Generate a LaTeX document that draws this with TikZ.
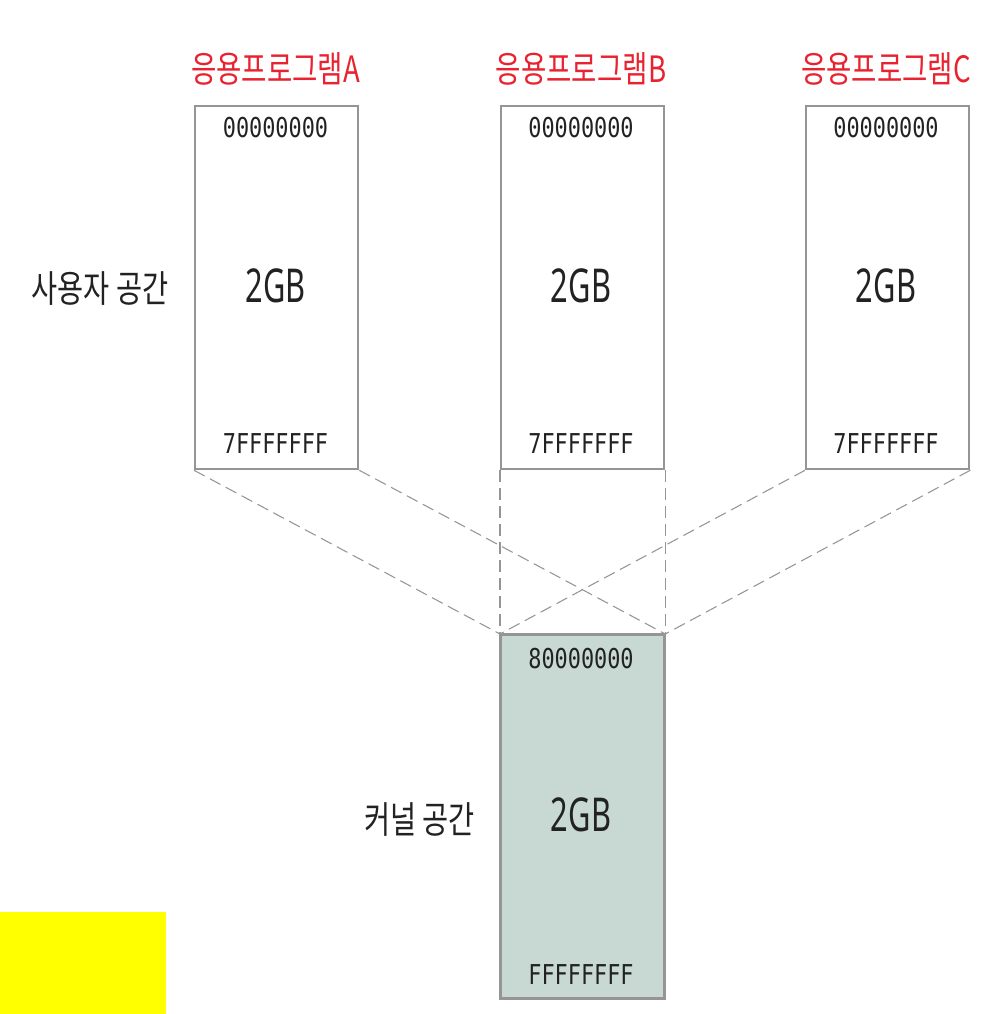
\documentclass[tikz,border=0pt]{standalone}
\usepackage{fontspec}
\newfontfamily\krfont[FakeStretch=0.76]{Noto Sans CJK KR}
\newfontfamily\sizefont[FakeStretch=0.66]{Noto Sans}
\newfontfamily\hexfont[FakeStretch=0.8]{DejaVu Sans Mono}
\definecolor{boxgray}{HTML}{959595}
\definecolor{kfill}{HTML}{C8D8D3}
\definecolor{lblred}{HTML}{E8222E}
\definecolor{txt}{HTML}{222222}
\definecolor{hiyellow}{RGB}{255,255,0}
\begin{document}
\begin{tikzpicture}[x=0.75pt,y=-0.75pt,
  mem/.style={draw=boxgray,line width=1.7pt,minimum width=163*0.75pt,minimum height=363*0.75pt,inner sep=0pt,anchor=north west},
  redlbl/.style={text=lblred,font=\krfont\fontsize{27.2}{29}\selectfont,inner sep=0pt},
  sidelbl/.style={text=txt,font=\krfont\fontsize{28}{30}\selectfont,inner sep=0pt},
  sizelbl/.style={text=txt,font=\sizefont\fontsize{35}{37}\selectfont,inner sep=0pt},
  hexlbl/.style={text=txt,font=\hexfont\fontsize{20.5}{22}\selectfont,inner sep=0pt},
  link/.style={draw=boxgray,line width=0.8pt,dash pattern=on 9pt off 4.5pt}]
\useasboundingbox (0,0) rectangle (1000,1014);
\fill[hiyellow] (0,912) rectangle (166,1014);
% boxes
\node[mem] (A) at (194,105) {};
\node[mem] (B) at (500,105) {};
\node[mem] (C) at (805,105) {};
\node[mem,fill=kfill] (K) at (500,634) {};
% connectors
\draw[link] (A.south west) -- (K.north west);
\draw[link] (A.south east) -- (K.north east);
\draw[link] (B.south west) -- (K.north west);
\draw[link] (B.south east) -- (K.north east);
\draw[link] (C.south west) -- (K.north west);
\draw[link] (C.south east) -- (K.north east);
% redraw kernel border over dashes
\draw[draw=boxgray,line width=1.7pt] (K.north west) rectangle (K.south east);
% labels
\node[redlbl] (la) at (275.5,69) {응용프로그램A};
\node[redlbl] (lb) at (581,69) {응용프로그램B};
\node[redlbl] (lc) at (886,69) {응용프로그램C};
\foreach \b/\x in {A/275.5,B/581,C/886}{
  \node[hexlbl] (\b top) at (\x,128) {00000000};
  \node[sizelbl] (\b size) at (\x,286) {2GB};
  \node[hexlbl] (\b bot) at (\x,444) {7FFFFFFF};
}
\node[hexlbl] (Ktop) at (581,659) {80000000};
\node[sizelbl] (Ksize) at (581,815) {2GB};
\node[hexlbl] (Kbot) at (581,975) {FFFFFFFF};
\node[sidelbl] (user) at (100,289) {사용자 공간};
\node[sidelbl] (kern) at (419.5,820) {커널 공간};
\end{tikzpicture}
\end{document}
